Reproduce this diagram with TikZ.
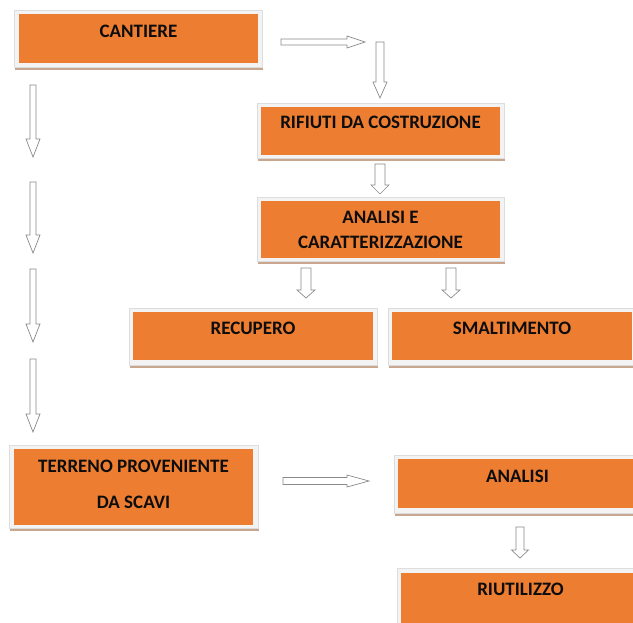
\documentclass[tikz,border=0pt]{standalone}
\usepackage{fontspec}
\setmainfont{Carlito}
\usetikzlibrary{calc}
\definecolor{orng}{HTML}{ED7D31}
\definecolor{tanc}{HTML}{C9A68E}
\definecolor{framefill}{HTML}{F3F3F3}
\definecolor{framedraw}{HTML}{DDDDDD}
\definecolor{arrowc}{HTML}{8A8A8A}
\tikzset{
  obox/.style={fill=orng, inner sep=0pt, anchor=north, align=center,
    font=\bfseries\fontsize{19}{25}\selectfont, text=black!95},
  blk/.style={draw=arrowc, fill=white, line width=0.7pt, line join=miter},
  bgshadow/.style={fill=tanc},
  bgframe/.style={draw=framedraw, fill=framefill, line width=0.6pt},
}
\newcommand\boxbg[4]{%
  \fill[bgshadow] (#1+1,#2+3) rectangle (#3+1,#4+3);
  \draw[bgframe] (#1,#2) rectangle (#3,#4);}
\newcommand\varr[5]{%
  \draw[blk] ($(#1)+(-#3,0)$) -- ($(#2)+(-#3,-#5)$) -- ($(#2)+(-#4,-#5)$) -- (#2)
    -- ($(#2)+(#4,-#5)$) -- ($(#2)+(#3,-#5)$) -- ($(#1)+(#3,0)$) -- cycle;}
\newcommand\harr[5]{%
  \draw[blk] ($(#1)+(0,-#3)$) -- ($(#2)+(-#5,-#3)$) -- ($(#2)+(-#5,-#4)$) -- (#2)
    -- ($(#2)+(-#5,#4)$) -- ($(#2)+(-#5,#3)$) -- ($(#1)+(0,#3)$) -- cycle;}
\begin{document}
\begin{tikzpicture}[x=1pt,y=-1pt]
\useasboundingbox[fill=white] (0,0) rectangle (633,623);
% boxes
\boxbg{14}{10}{262}{67}
\node[obox, minimum width=239pt, text height=23.5pt, text depth=25.5pt] (cantiere) at (138.5,14) {CANTIERE};
\boxbg{257}{103}{504}{158}
\node[obox, minimum width=239pt, text height=21.5pt, text depth=26.5pt] (rifiuti) at (380.5,107) {RIFIUTI DA COSTRUZIONE};
\boxbg{257}{197}{504}{261}
\node[obox, minimum width=239pt, text height=47.5pt, text depth=9.5pt] (analisie) at (380.5,201) {ANALISI E\\CARATTERIZZAZIONE};
\boxbg{129}{308}{377}{365}
\node[obox, minimum width=240pt, text height=22.5pt, text depth=25.5pt] (recupero) at (253,312) {RECUPERO};
\boxbg{388}{308}{636}{365}
\node[obox, minimum width=240pt, text height=22.5pt, text depth=25.5pt] (smalt) at (512,312) {SMALTIMENTO};
\boxbg{9}{445}{258}{528}
\node[obox, minimum width=239pt, text height=59.5pt, text depth=16.5pt,
  font=\bfseries\fontsize{19}{36}\selectfont] (terreno) at (133.5,449) {TERRENO PROVENIENTE\\DA SCAVI};
\boxbg{394}{455}{641}{513}
\node[obox, minimum width=239pt, text height=23.5pt, text depth=25.5pt] (analisi) at (517.5,459) {ANALISI};
\boxbg{397}{568}{644}{626}
\node[obox, minimum width=239pt, text height=22.5pt, text depth=27pt] (riutilizzo) at (520.5,573) {RIUTILIZZO};
% arrow end points
\coordinate (a1s) at (281,42);  \coordinate (a1e) at (365,42);
\coordinate (a2s) at (380,42);  \coordinate (a2e) at (380,98);
\coordinate (l1s) at (33,85);   \coordinate (l1e) at (33,157);
\coordinate (l2s) at (33,182);  \coordinate (l2e) at (33,253);
\coordinate (l3s) at (33,269);  \coordinate (l3e) at (33,342);
\coordinate (l4s) at (33,359);  \coordinate (l4e) at (33,432);
\coordinate (c1s) at (380,164); \coordinate (c1e) at (380,194);
\coordinate (d1s) at (306,268); \coordinate (d1e) at (306,298);
\coordinate (d2s) at (451,268); \coordinate (d2e) at (451,298);
\coordinate (f1s) at (283,481); \coordinate (f1e) at (369,481);
\coordinate (g1s) at (520,527); \coordinate (g1e) at (520,558);
% arrows
\harr{a1s}{a1e}{3}{6}{18}
\varr{a2s}{a2e}{4}{7}{16}
\varr{l1s}{l1e}{3}{7}{18}
\varr{l2s}{l2e}{3}{7}{18}
\varr{l3s}{l3e}{3}{7}{18}
\varr{l4s}{l4e}{3}{7}{18}
\varr{c1s}{c1e}{5}{9}{9}
\varr{d1s}{d1e}{5}{9}{8}
\varr{d2s}{d2e}{5}{9}{8}
\harr{f1s}{f1e}{3.5}{6}{22}
\varr{g1s}{g1e}{4}{8.5}{8}
\end{tikzpicture}
\end{document}
